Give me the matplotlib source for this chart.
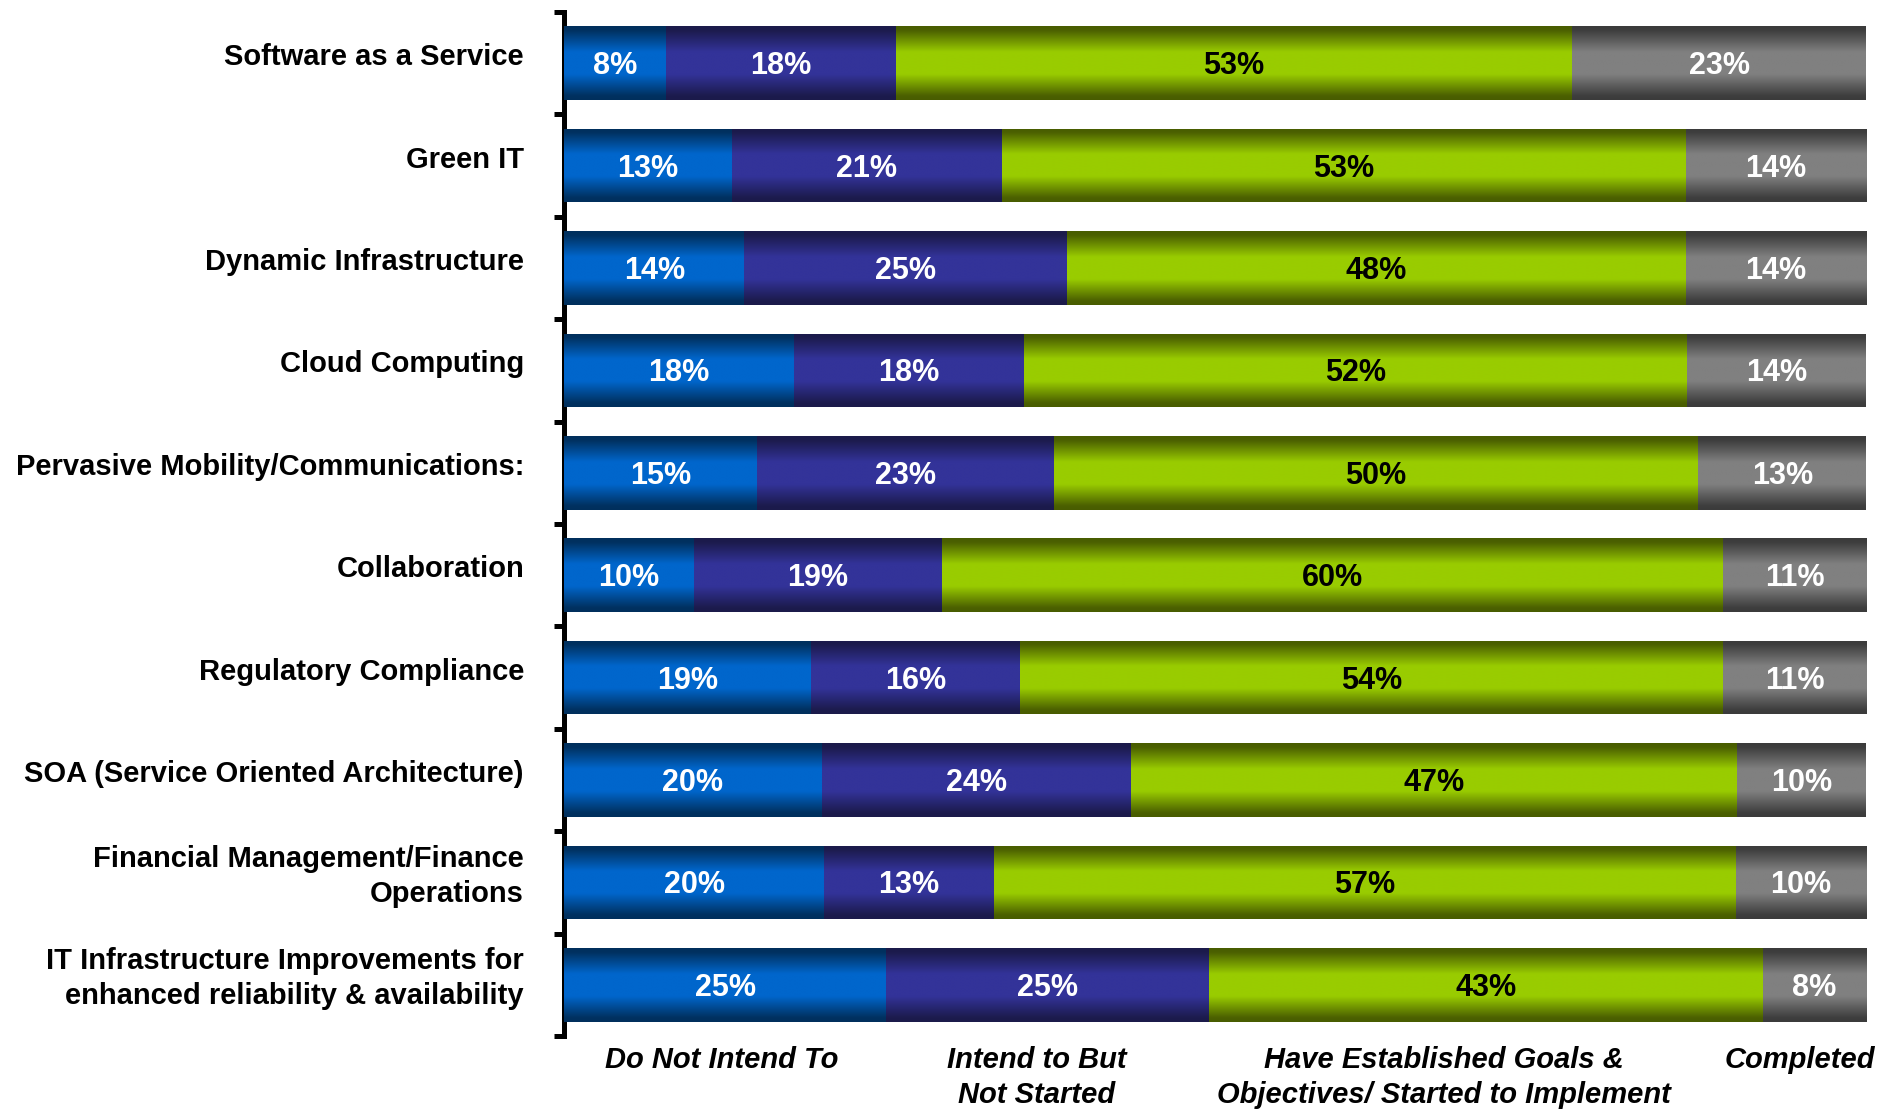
import numpy as np
import matplotlib
matplotlib.use("Agg")
import matplotlib.pyplot as plt
from matplotlib.colors import LinearSegmentedColormap
import matplotlib.transforms as mtransforms

plt.rcParams['font.family'] = ['Liberation Sans', 'DejaVu Sans']

categories = [
    "Software as a Service",
    "Green IT",
    "Dynamic Infrastructure",
    "Cloud Computing",
    "Pervasive Mobility/Communications:",
    "Collaboration",
    "Regulatory Compliance",
    "SOA (Service Oriented Architecture)",
    "Financial Management/Finance\nOperations",
    "IT Infrastructure Improvements for\nenhanced reliability & availability",
]
do_not_intend = [8, 13, 14, 18, 15, 10, 19, 20, 20, 25]
intend_not_started = [18, 21, 25, 18, 23, 19, 16, 24, 13, 25]
started = [53, 53, 48, 52, 50, 60, 54, 47, 57, 43]
completed = [23, 14, 14, 14, 13, 11, 11, 10, 10, 8]

series_names = [
    "Do Not Intend To",
    "Intend to But\nNot Started",
    "Have Established Goals &\nObjectives/ Started to Implement",
    "Completed",
]
# (edge colour, centre colour) for the vertical shading of each series
shades = [
    ("#002f5c", "#0066cc"),
    ("#1b1a4a", "#333399"),
    ("#485c00", "#99cc00"),
    ("#3b3b3b", "#808080"),
]
text_colors = ["white", "white", "black", "white"]
name_x = [12.1, 36.3, 67.6, 94.9]

values = np.array([do_not_intend, intend_not_started, started, completed], dtype=float)
shares = values / values.sum(axis=0) * 100  # each row filled to 100%

fig = plt.figure(figsize=(18.98, 11.09), dpi=100)
ax = fig.add_axes([564 / 1898, 73 / 1109, 1302 / 1898, 1024 / 1109])

y = np.arange(len(categories))
t = np.linspace(0, 1, 200)
profile = np.interp(t, [0, 0.06, 0.35, 0.65, 0.94, 1], [0, 0.05, 1, 1, 0.05, 0])
drop = mtransforms.ScaledTranslation(0, -3 / 100, fig.dpi_scale_trans)
left = np.zeros(len(categories))
for k in range(4):
    cmap = LinearSegmentedColormap.from_list("shade%d" % k, list(shades[k]))
    bars = ax.barh(y, shares[k], left=left, height=0.72, color=shades[k][1],
                   edgecolor="none", zorder=2)
    for bar, lab, w in zip(bars, values[k], shares[k]):
        x0, y0 = bar.get_x(), bar.get_y()
        h = bar.get_height()
        im = ax.imshow(profile[:, None], cmap=cmap, vmin=0, vmax=1, aspect="auto",
                       extent=[x0, x0 + w, y0 + h, y0], interpolation="bilinear",
                       zorder=3)
        im.set_clip_path(bar)
        ax.text(x0 + w / 2, y0 + h / 2, "%d%%" % lab, ha="center", va="center",
                transform=ax.transData + drop,
                color=text_colors[k], fontsize=22, fontweight="bold", zorder=4)
    left += shares[k]

ax.set_xlim(0, 100)
ax.set_ylim(len(categories) - 0.5, -0.5)

for s in ["top", "right", "bottom"]:
    ax.spines[s].set_visible(False)
ax.spines["left"].set_linewidth(3.6)
ax.set_xticks([])
ax.set_yticks(np.arange(len(categories) + 1) - 0.5)
ax.set_yticklabels([])
ax.tick_params(axis="y", direction="out", length=7, width=3.6)

# category names, nudged slightly above the bar centres
lift = mtransforms.ScaledTranslation(-40 / 100, 6 / 100, fig.dpi_scale_trans)
for yi, name in zip(y, categories):
    ax.text(0, yi, name, transform=ax.transData + lift, ha="right", va="center",
            fontsize=21, fontweight="bold", linespacing=1.33)

# series names under the bars
under = mtransforms.blended_transform_factory(ax.transData, ax.transAxes)
for xi, name in zip(name_x, series_names):
    ax.text(xi, -0.01, name, transform=under, ha="center", va="top",
            fontsize=21, fontweight="bold", fontstyle="italic",
            linespacing=1.3, multialignment="center")

fig.savefig("out.png", dpi=100)
